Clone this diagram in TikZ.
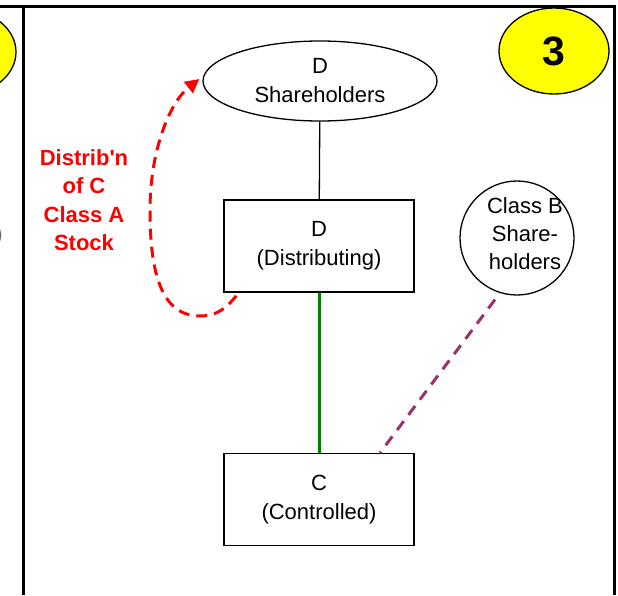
\documentclass[tikz,border=0pt]{standalone}
\usepackage{fontspec}
\setmainfont{Liberation Sans}
\usetikzlibrary{shapes.geometric,arrows.meta}
\definecolor{badgeyellow}{RGB}{255,255,0}
\definecolor{linkgreen}{RGB}{0,128,0}
\definecolor{plum}{RGB}{153,51,102}
\definecolor{redtxt}{RGB}{255,0,0}
\begin{document}
\begin{tikzpicture}[x=1pt,y=-1pt,
  lbl/.style={font=\fontsize{22}{29}\selectfont, align=center, inner sep=0pt},
  entbox/.style={lbl, draw, line width=1.5pt, rectangle, minimum width=190pt, minimum height=92pt},
  holder/.style={lbl, draw, line width=1.3pt, ellipse, minimum width=234pt, minimum height=80pt},
  roundholder/.style={draw, line width=1.3pt, circle, minimum size=114pt, inner sep=0pt},
  badge/.style={draw, line width=1.3pt, fill=badgeyellow, ellipse, minimum width=110pt, minimum height=86pt, inner sep=0pt,
     font=\fontsize{41}{41}\selectfont\bfseries},
  frameline/.style={line width=3pt},
  ownline/.style={line width=1.3pt},
  ctrlline/.style={line width=3pt, draw=linkgreen},
  classbline/.style={line width=3pt, draw=plum, dash pattern=on 11pt off 8pt},
  distarrow/.style={line width=3pt, draw=redtxt, dash pattern=on 11pt off 7pt,
     -{Triangle[length=14pt,width=14pt]}, fill=none},
  redlbl/.style={font=\fontsize{22}{28.5}\selectfont\bfseries, text=redtxt, align=center, inner sep=0pt}
]
\useasboundingbox (0,0) rectangle (618,595);
% frame
\draw[frameline] (0,6) -- (614,6);
\draw[frameline] (23,6) -- (23,595);
\draw[frameline] (614,4.5) -- (614,595);
% neighbouring panel fragments
\node[badge] (leftbadge) at (-39,52) {};
\node[lbl, anchor=east, text=black!60] (leftfrag) at (3,236) {)};
% badge
\node[badge] (num) at (554,51) {3};
% entities
\node[holder] (sh) at (320,81) {D\\Shareholders};
\node[entbox] (dist) at (319,246) {D\\(Distributing)};
\node[entbox] (ctrl) at (319,499.5) {C\\(Controlled)};
\node[roundholder] (cb) at (517,238) {};
\node[lbl, font=\fontsize{22}{28}\selectfont] (cbtext) at (525,234) {Class B\\Share-\\holders};
% connectors
\draw[ownline] (sh) -- (dist);
\draw[ctrlline] (dist) -- (ctrl);
\draw[classbline] ([shift={(-22,4)}]cb.south) -- ([xshift=61pt]ctrl.north);
\draw[distarrow] ([shift={(13,3)}]dist.south west)
  .. controls (225,310) and (215,316) .. (200,316)
  .. controls (160,316) and (150,270) .. (150,210)
  .. controls (150,150) and (170,102) .. ([shift={(-3,-2)}]sh.west);
% label
\node[redlbl] (dlbl) at (84,200) {Distrib\textquotesingle n\\of C\\Class A\\Stock};
\end{tikzpicture}
\end{document}
